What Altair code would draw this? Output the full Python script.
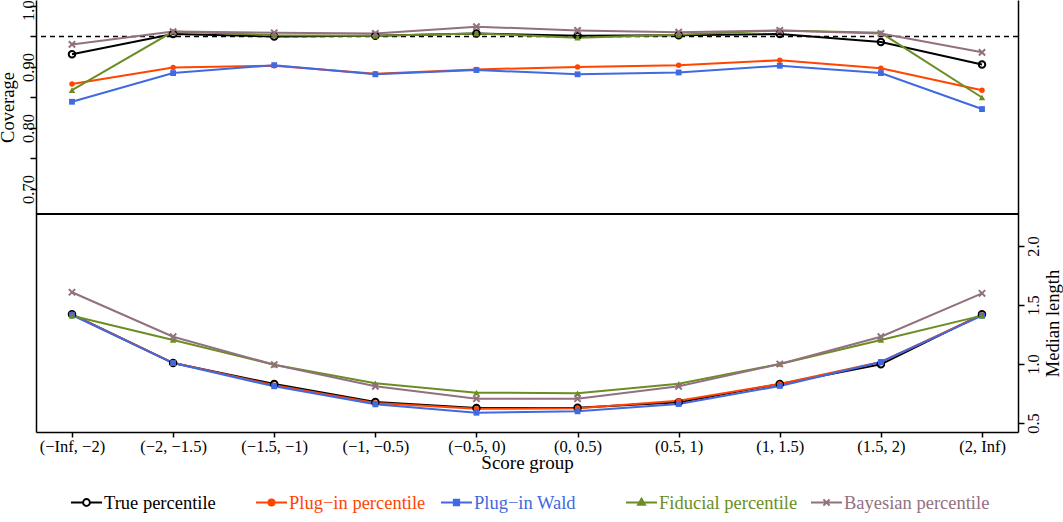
import json
import altair as alt
import pandas as pd

# ---------------- data ----------------
groups = ["(−Inf, −2)", "(−2, −1.5)", "(−1.5, −1)", "(−1, −0.5)", "(−0.5, 0)",
          "(0, 0.5)", "(0.5, 1)", "(1, 1.5)", "(1.5, 2)", "(2, Inf)"]
series = ["True percentile", "Plug−in percentile", "Plug−in Wald",
          "Fiducial percentile", "Bayesian percentile"]
colors = ["#000000", "#FF4500", "#4169E1", "#6B8E23", "#93707F"]

coverage_true = [0.921, 0.954, 0.950, 0.951, 0.955, 0.951, 0.952, 0.954, 0.941, 0.904]
coverage_plug = [0.872, 0.899, 0.902, 0.889, 0.896, 0.900, 0.903, 0.911, 0.898, 0.862]
coverage_wald = [0.843, 0.890, 0.903, 0.888, 0.895, 0.888, 0.891, 0.902, 0.890, 0.831]
coverage_fid = [0.862, 0.958, 0.952, 0.951, 0.955, 0.948, 0.953, 0.960, 0.956, 0.850]
coverage_bayes = [0.937, 0.958, 0.956, 0.955, 0.966, 0.960, 0.957, 0.960, 0.955, 0.924]

length_true = [1.421, 1.008, 0.831, 0.678, 0.627, 0.630, 0.675, 0.831, 0.997, 1.421]
length_plug = [1.421, 1.010, 0.820, 0.670, 0.620, 0.625, 0.689, 0.831, 1.017, 1.415]
length_wald = [1.415, 1.008, 0.811, 0.658, 0.587, 0.599, 0.661, 0.814, 1.017, 1.410]
length_fid = [1.409, 1.203, 0.994, 0.836, 0.757, 0.752, 0.833, 1.000, 1.203, 1.410]
length_bayes = [1.608, 1.231, 0.994, 0.811, 0.706, 0.706, 0.811, 1.000, 1.231, 1.599]

nominal_level = [0.95]
coverage_ticks = [0.70, 0.75, 0.80, 0.85, 0.90, 0.95, 1.00]
length_ticks = [0.5, 1.0, 1.5, 2.0]

# axis extents (top panel occupies upper half, bottom panel lower half)
x_domain = [-0.356, 9.356]
coverage_domain = [0.3016, 1.0098]
coverage_panel_bottom = [0.659]
length_domain = [0.4237, 4.0847]

cov_all = [coverage_true, coverage_plug, coverage_wald, coverage_fid, coverage_bayes]
len_all = [length_true, length_plug, length_wald, length_fid, length_bayes]

rows = []
for s, cv, ln in zip(series, cov_all, len_all):
    for i in range(len(groups)):
        rows.append({"g": i, "series": s, "cov": cv[i], "len": ln[i]})
df = pd.DataFrame(rows)

# ---------------- styling helpers ----------------
FONT = "Liberation Serif"
point_shapes = ["circle", "circle", "square", "triangle-up", "M-1,-1L1,1M-1,1L1,-1"]
point_filled = [False, True, True, True, False]
point_sizes = [42, 30, 34, 42, 40]
legend_fills = ["transparent", colors[1], colors[2], colors[3], "transparent"]
legend_paths = [
    "M-1,0L-0.22,0M0.22,0L1,0M-0.22,0A0.22,0.22,0,1,1,0.22,0A0.22,0.22,0,1,1,-0.22,0Z",
    "M-1,0L1,0M-0.19,0A0.19,0.19,0,1,1,0.19,0A0.19,0.19,0,1,1,-0.19,0Z",
    "M-1,0L1,0M-0.17,-0.17L0.17,-0.17L0.17,0.17L-0.17,0.17Z",
    "M-1,0L1,0M0,-0.24L0.22,0.14L-0.22,0.14Z",
    "M-1,0L1,0M-0.2,-0.2L0.2,0.2M-0.2,0.2L0.2,-0.2",
]


def ternary(values):
    expr = json.dumps(values[-1])
    for s, v in reversed(list(zip(series[:-1], values[:-1]))):
        expr = f"datum.value === {json.dumps(s)} ? {json.dumps(v)} : ({expr})"
    return expr


shape_expr = ternary(legend_paths)
fill_expr = ternary(legend_fills)
color_expr = ternary(colors)

legend = alt.Legend(
    orient="none", legendX=34, legendY=486, direction="horizontal", columns=5,
    gridAlign="all", columnPadding=2, symbolSize=961, symbolStrokeWidth=2,
    labelOffset=1, labelFont=FONT, labelFontSize=18.5, labelLimit=300, padding=0,
    symbolType=alt.ExprRef(expr=shape_expr),
    symbolFillColor=alt.ExprRef(expr=fill_expr),
    symbolStrokeColor=alt.ExprRef(expr=color_expr),
    labelColor=alt.ExprRef(expr=color_expr),
)

x_axis = alt.Axis(
    values=list(range(len(groups))),
    labelExpr=f"{json.dumps(groups, ensure_ascii=False)}[round(datum.value)]",
    title="Score group", grid=False, tickSize=5, labelPadding=1, labelFontSize=16.5,
    titleFontSize=19, titleY=36, titleBaseline="alphabetic", labelFlush=False,
    labelOverlap=False, domainWidth=1.5, tickWidth=1.5,
)
x_enc = alt.X("g:Q", scale=alt.Scale(domain=x_domain, nice=False, zero=False), axis=x_axis)

cov_axis = alt.Axis(
    orient="left", values=coverage_ticks,
    labelExpr="(round(datum.value*100) % 10 == 0) ? format(datum.value, '.2f') : ''",
    labelAngle=270, labelAlign="center", labelBaseline="alphabetic", labelOverlap=False,
    tickSize=6, labelPadding=-3, labelFontSize=16.5, title="Coverage", titleAngle=270,
    titleX=-23, titleY=107, titleBaseline="alphabetic", titleAlign="center",
    titleFontSize=18.5, domainWidth=1.5, tickWidth=1.5, grid=False,
)
cov_scale = alt.Scale(domain=coverage_domain, nice=False, zero=False)

len_axis = alt.Axis(
    orient="right", values=length_ticks, format=".1f",
    labelAngle=270, labelAlign="center", labelBaseline="top", labelOverlap=False,
    tickSize=6, labelPadding=1, labelFontSize=16.5, title="Median length", titleAngle=270,
    titleX=40, titleY=323, titleBaseline="alphabetic", titleAlign="center",
    titleFontSize=18.5, domainWidth=1.5, tickWidth=1.5, grid=False,
)
len_scale = alt.Scale(domain=length_domain, nice=False, zero=False)

color_enc = alt.Color("series:N", scale=alt.Scale(domain=series, range=colors),
                      legend=legend, title=None)


def panel(field, scale, axis, extra_before=(), extra_after=()):
    y_enc = alt.Y(f"{field}:Q", scale=scale, axis=axis)
    lines = alt.Chart(df).mark_line(strokeWidth=2).encode(x=x_enc, y=y_enc, color=color_enc)
    pts = []
    for s, c, shp, filled, sz in zip(series, colors, point_shapes, point_filled, point_sizes):
        pts.append(
            alt.Chart(df).transform_filter(alt.datum.series == s)
            .mark_point(shape=shp, filled=filled, color=c, size=sz, strokeWidth=2, opacity=1)
            .encode(x=x_enc, y=y_enc)
        )
    return alt.layer(*extra_before, lines, *pts, *extra_after)


target_df = pd.DataFrame({"cov": nominal_level})
border_df = pd.DataFrame({"cov": coverage_panel_bottom})
target_rule = alt.Chart(target_df).mark_rule(color="black", strokeDash=[5, 4], strokeWidth=1.3).encode(
    y=alt.Y("cov:Q", scale=cov_scale, axis=cov_axis))
middle_rule = alt.Chart(border_df).mark_rule(color="black", strokeWidth=1.8).encode(
    y=alt.Y("cov:Q", scale=cov_scale, axis=cov_axis))

top = panel("cov", cov_scale, cov_axis, extra_before=[target_rule], extra_after=[middle_rule])
bottom = panel("len", len_scale, len_axis)

chart = (
    alt.layer(top, bottom)
    .resolve_scale(y="independent")
    .properties(
        width=982, height=432,
        autosize=alt.AutoSizeParams(type="none"),
        padding={"left": 36, "top": 0, "right": 45, "bottom": 90},
        background="white",
    )
    .configure_view(stroke=None)
    .configure_axis(labelFont=FONT, titleFont=FONT, labelColor="black", titleColor="black",
                    domainColor="black", tickColor="black", titleFontWeight="normal")
    .configure_legend(labelFont=FONT, titleFont=FONT, labelFontSize=18.5)
)

chart.save("out.html", embed_options={"renderer": "svg", "actions": False})
